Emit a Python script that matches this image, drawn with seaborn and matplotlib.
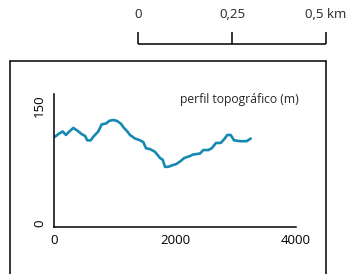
import matplotlib
matplotlib.use("Agg")
import matplotlib.pyplot as plt
import seaborn as sns
import pandas as pd
from matplotlib.lines import Line2D

# profile data (distance in m, elevation in m)
distance = [17, 71, 144, 198, 253, 319, 385, 458, 512, 550, 607, 650, 732, 788,
            860, 914, 980, 1036, 1103, 1157, 1212, 1256, 1339, 1422, 1476, 1521,
            1587, 1670, 1752, 1797, 1835, 1889, 1962, 2017, 2083, 2154, 2237,
            2303, 2413, 2468, 2551, 2607, 2678, 2756, 2810, 2865, 2921, 2975,
            3075, 3185, 3251]
elevation = [102, 105, 108, 104, 108, 112, 109, 105, 103, 98, 98, 102, 108, 116,
             117, 120, 121, 120, 117, 112, 108, 104, 100, 98, 96, 89,
             88, 85, 78, 76, 68, 68, 70, 71, 74, 78, 80,
             82, 83, 87, 87, 89, 95, 95, 99, 104, 104, 98,
             97, 97, 100]

x_ticks = [0, 2000, 4000]
y_ticks = [0, 150]

# scale bar
scale_ticks = [0, 0.25, 0.5]
scale_labels = ["0", "0,25", "0,5 km"]

line_color = "#1689b2"

sns.set_style("white")
plt.rcParams["font.family"] = ["Open Sans", "DejaVu Sans"]

fig = plt.figure(figsize=(3.52, 2.74), dpi=100)

# main profile axes
ax = fig.add_axes([54/352, 47/274, 242/352, 132.7/274])
df = pd.DataFrame({"distance": distance, "elevation": elevation})
sns.lineplot(data=df, x="distance", y="elevation", ax=ax, color=line_color,
             linewidth=1.9, sort=False)
ax.set_xlim(0, 4000)
ax.set_ylim(0, 150)
ax.set_xticks(x_ticks)
ax.set_yticks(y_ticks)
ax.set_xticklabels([str(t) for t in x_ticks])
ax.set_yticklabels([str(t) for t in y_ticks], rotation=90)
ax.set_xlabel("")
ax.set_ylabel("")
for s in ["top", "right"]:
    ax.spines[s].set_visible(False)
for s in ["left", "bottom"]:
    ax.spines[s].set_color("black")
    ax.spines[s].set_linewidth(1.1)
ax.tick_params(axis="both", direction="inout", length=4.5, width=1.1,
               colors="black", labelsize=9.5)
ax.tick_params(axis="x", pad=2.5)
ax.tick_params(axis="y", pad=3.5)
labs = ax.get_yticklabels()
labs[0].set_va("bottom")
labs[1].set_va("top")
ax.text(1.01, 0.96, "perfil topográfico (m)", transform=ax.transAxes,
        ha="right", va="center", fontsize=8.7)

# frame box (bottom edge falls outside the image)
fx0, fx1, fy = 10/352, 326/352, 1 - 61/274
fig.add_artist(Line2D([fx0, fx1], [fy, fy], color="black", lw=1.1))
fig.add_artist(Line2D([fx0, fx0], [fy, -0.05], color="black", lw=1.1))
fig.add_artist(Line2D([fx1, fx1], [fy, -0.05], color="black", lw=1.1))

# scale bar axes
sax = fig.add_axes([138/352, 1 - 44/274, 188/352, 12/274])
sax.set_xlim(0, 0.5)
sax.set_ylim(0, 1)
sax.plot([scale_ticks[0], scale_ticks[-1]], [0, 0], color="black", lw=1.1,
         solid_capstyle="butt", clip_on=False)
sax.vlines(scale_ticks, 0, 1, color="black", lw=1.1, clip_on=False)
for t, lab in zip(scale_ticks, scale_labels):
    sax.text(t, 2.45, lab, ha="center", va="center", fontsize=9.5, clip_on=False)
sax.axis("off")

fig.savefig("out.png", dpi=100)
